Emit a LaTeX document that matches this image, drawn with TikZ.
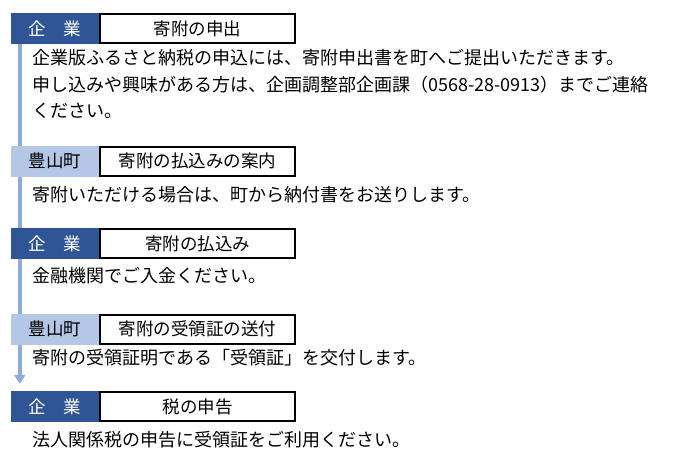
\documentclass[tikz,border=0pt]{standalone}
\usepackage{fontspec}
\setmainfont{Noto Sans CJK JP}
\usetikzlibrary{arrows.meta,backgrounds}
\definecolor{darkblue}{HTML}{2F5597}
\definecolor{lightblue}{HTML}{B4C7E7}
\definecolor{linecol}{HTML}{8FAADC}
\tikzset{
  labelbox/.style={rectangle, inner sep=0pt, minimum width=88pt, minimum height=31pt, font=\fontsize{17.5}{20}\selectfont},
  corpbox/.style={labelbox, fill=darkblue, text=white},
  townbox/.style={labelbox, fill=lightblue, text=black},
  titlebox/.style={rectangle, draw=black, line width=2pt, fill=white, inner sep=0pt, minimum width=195pt, minimum height=29pt, font=\fontsize{17.5}{20}\selectfont},
  bodytext/.style={anchor=west, inner sep=0pt, font=\fontsize{18}{20}\selectfont},
  flowline/.style={draw=linecol, line width=3.5pt, -{Triangle[width=11pt,length=9pt]}}
}
\begin{document}
\begin{tikzpicture}[x=1pt,y=-1pt]
\useasboundingbox (0,0) rectangle (690,455);
% header nodes
\node[corpbox] (l1) at (55,28.5) {企　業};
\node[titlebox] (t1) at (197.5,28.5) {寄附の申出};
\node[townbox] (l2) at (55,161) {豊山町};
\node[titlebox] (t2) at (197.5,161) {寄附の払込みの案内};
\node[corpbox] (l3) at (55,243.5) {企　業};
\node[titlebox] (t3) at (197.5,243.5) {寄附の払込み};
\node[townbox] (l4) at (55,329) {豊山町};
\node[titlebox] (t4) at (197.5,329) {寄附の受領証の送付};
\node[corpbox] (l5) at (55,406.5) {企　業};
\node[titlebox] (t5) at (197.5,406.5) {税の申告};
% flow line drawn behind boxes
\begin{scope}[on background layer]
\coordinate (fs) at ([xshift=9pt]l1.south west);
\coordinate (fe) at ([xshift=9pt,yshift=7pt]l5.north west);
\draw[flowline] (fs) -- (fe);
\end{scope}
% body texts
\node[bodytext] (b1a) at (32,58) {企業版ふるさと納税の申込には、寄附申出書を町へご提出いただきます。};
\node[bodytext] (b1b) at (32,84.5) {申し込みや興味がある方は、企画調整部企画課（0568-28-0913）までご連絡};
\node[bodytext] (b1c) at (32,111) {ください。};
\node[bodytext] (b2) at (32,194.5) {寄附いただける場合は、町から納付書をお送りします。};
\node[bodytext] (b3) at (32,276) {金融機関でご入金ください。};
\node[bodytext] (b4) at (32,358) {寄附の受領証明である「受領証」を交付します。};
\node[bodytext] (b5) at (32,440) {法人関係税の申告に受領証をご利用ください。};
\end{tikzpicture}
\end{document}
